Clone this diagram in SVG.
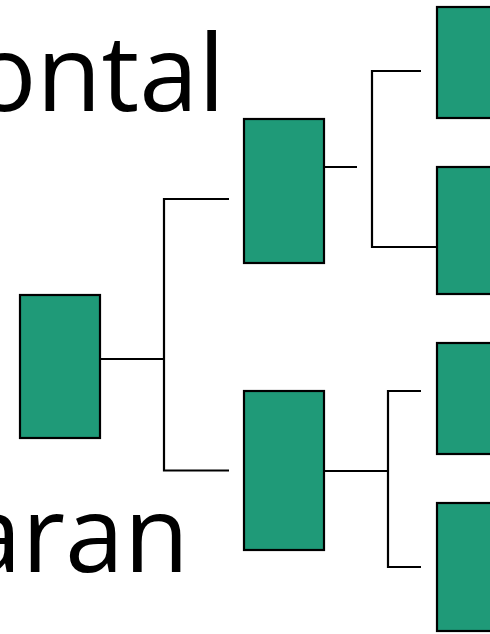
<svg xmlns="http://www.w3.org/2000/svg" width="490" height="634" viewBox="0 0 490 634">
<style>
.box{fill:#1f9a78;stroke:#000;stroke-width:2.2}
.ln{fill:none;stroke:#000;stroke-width:2.2}
.t{font-family:"Open Sans","Noto Sans",sans-serif;font-size:106px;fill:#000}
</style>
<rect width="490" height="634" fill="#fff"/>
<text class="t" x="225" y="111" text-anchor="end">ontal</text>
<text class="t" x="189" y="572" text-anchor="end">aran</text>
<g id="connectors">
<path class="ln" d="M100,359 H164 M229,199 H164 V470.5 H229"/>
<path class="ln" d="M324,167 H357 M421,71 H372 V247 H436"/>
<path class="ln" d="M324,471 H388 M421,391 H388 V567 H421"/>
</g>
<g id="root"><rect class="box" x="20" y="295" width="80" height="143"/></g>
<g id="mid-top"><rect class="box" x="244" y="119" width="80" height="144"/></g>
<g id="mid-bottom"><rect class="box" x="244" y="391" width="80" height="159"/></g>
<g id="leaf-1"><rect class="box" x="437" y="7" width="80" height="111"/></g>
<g id="leaf-2"><rect class="box" x="437" y="167" width="80" height="127"/></g>
<g id="leaf-3"><rect class="box" x="437" y="343" width="80" height="111"/></g>
<g id="leaf-4"><rect class="box" x="437" y="503" width="80" height="128"/></g>
</svg>
